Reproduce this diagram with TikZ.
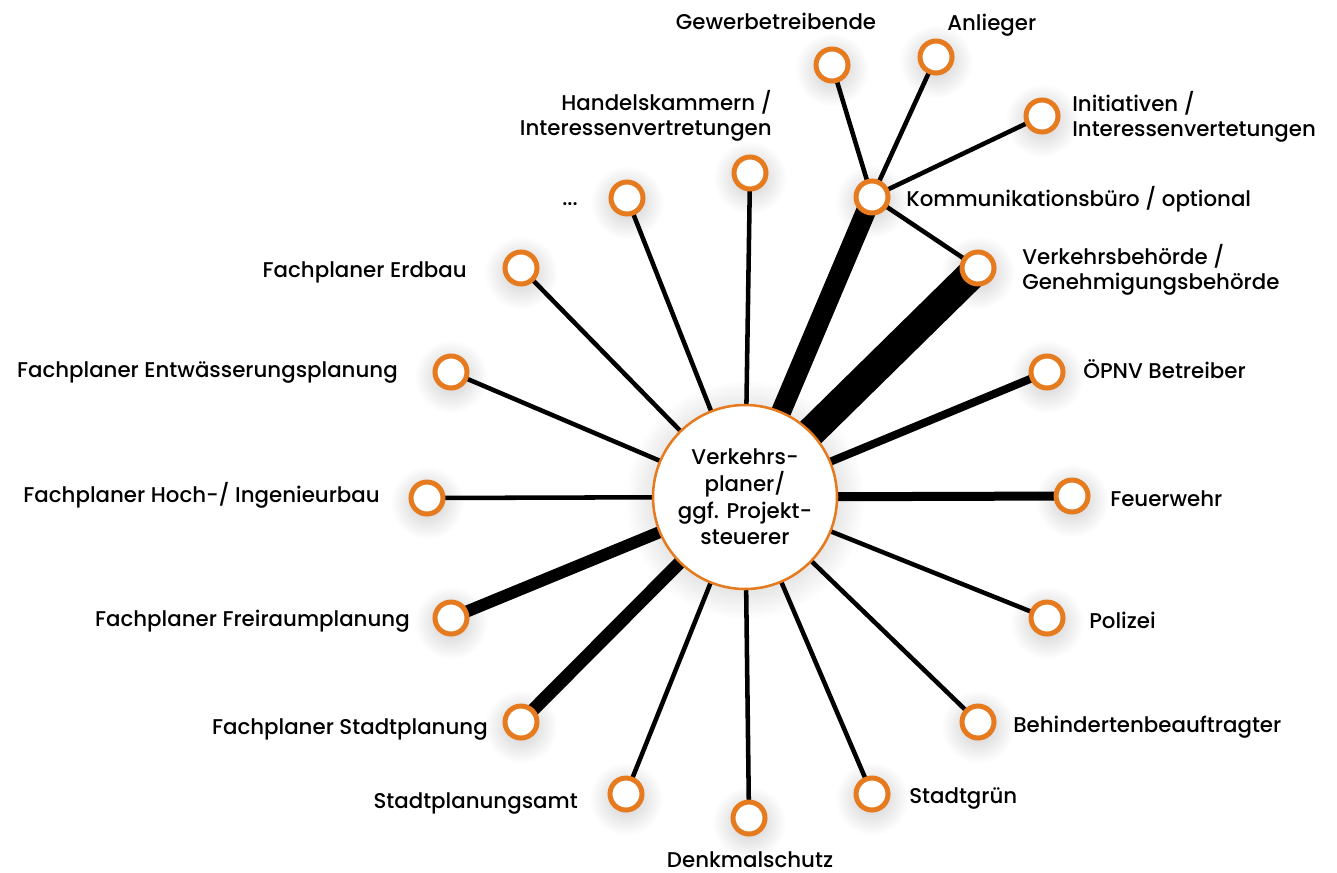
\documentclass[tikz,border=0pt]{standalone}
\usepackage{fontspec}
\setmainfont{Poppins}[UprightFont=* Medium]
\usetikzlibrary{backgrounds,shadows,fadings}

\definecolor{ringorange}{RGB}{229,122,30}
\tikzfading[name=halo, inner color=transparent!0, outer color=transparent!100]

\begin{document}
\begin{tikzpicture}[
  x=0.75pt, y=-0.75pt,
  every node/.style={font=\fontsize{16pt}{19pt}\selectfont, inner sep=0pt},
  stake/.style={circle, draw=ringorange, line width=3.75pt, fill=white, minimum size=24pt,
    general shadow={shadow scale=2.3, path fading=halo, fill=black, opacity=0.2, shadow yshift=-1.5pt}},
  hub/.style={circle, draw=ringorange, line width=1.9pt, fill=white, minimum size=138pt,
    align=center, font=\fontsize{16pt}{20pt}\selectfont,
    general shadow={shadow scale=1.3, path fading=halo, fill=black, opacity=0.4, shadow yshift=-1.5pt}},
  link/.style={line width=3.4pt}
  ]
  \useasboundingbox (0,0) rectangle (1337,872);

  % centre
  \node[hub] (hub) at (745,497) {Verkehrs-\\planer/\\ggf. Projekt-\\steuerer};

  % stakeholders
  \node[stake] (komm)    at (872,197) {};
  \node[stake] (gewerbe) at (832,65) {};
  \node[stake] (anlieger) at (936,57) {};
  \node[stake] (init)    at (1042,116) {};
  \node[stake] (verkehr) at (978,268) {};
  \node[stake] (oepnv)   at (1047,372) {};
  \node[stake] (feuer)   at (1072,496) {};
  \node[stake] (polizei) at (1047,618) {};
  \node[stake] (behind)  at (978,722) {};
  \node[stake] (gruen)   at (872,794) {};
  \node[stake] (denk)    at (749,818) {};
  \node[stake] (samt)    at (626,794) {};
  \node[stake] (stadt)   at (521,722) {};
  \node[stake] (frei)    at (451,618) {};
  \node[stake] (hoch)    at (427,498) {};
  \node[stake] (entw)    at (451,372) {};
  \node[stake] (erdbau)  at (521,268) {};
  \node[stake] (dots)    at (627,198) {};
  \node[stake] (handel)  at (750,173) {};

  % labels
  \node[anchor=base] (gewerbetxt) at (776,29) {Gewerbetreibende};
  \node[anchor=base west] (anliegertxt) at (947,30) {Anlieger};
  \node[anchor=west, align=left] (inittxt) at (1072,117) {Initiativen /\\Interessenvertetungen};
  \node[anchor=base west] (kommtxt) at (906,206) {Kommunikationsbüro / optional};
  \node[anchor=west, align=left] (verkehrtxt) at (1022,270) {Verkehrsbehörde /\\Genehmigungsbehörde};
  \node[anchor=base west] (oepnvtxt) at (1083,378) {ÖPNV Betreiber};
  \node[anchor=base west] (feuertxt) at (1110,506) {Feuerwehr};
  \node[anchor=base west] (polizeitxt) at (1089,628) {Polizei};
  \node[anchor=base west] (behindtxt) at (1013,732) {Behindertenbeauftragter};
  \node[anchor=base west] (gruentxt) at (909,803) {Stadtgrün};
  \node[anchor=base] (denktxt) at (750,867) {Denkmalschutz};
  \node[anchor=base east] (samttxt) at (578,808) {Stadtplanungsamt};
  \node[anchor=base east] (stadttxt) at (488,734) {Fachplaner Stadtplanung};
  \node[anchor=base east] (freitxt) at (410,626) {Fachplaner Freiraumplanung};
  \node[anchor=base east] (hochtxt) at (380,502) {Fachplaner Hoch-/ Ingenieurbau};
  \node[anchor=base east] (entwtxt) at (398,377) {Fachplaner Entwässerungsplanung};
  \node[anchor=base east] (erdbautxt) at (467,277) {Fachplaner Erdbau};
  \node[anchor=base east] (dotstxt) at (578,205) {...};
  \node[anchor=east, align=right] (handeltxt) at (772,116) {Handelskammern /\\Interessenvertretungen};

  % connectors
  \begin{scope}[on background layer]
    \foreach \n in {handel,dots,erdbau,entw,hoch,samt,denk,gruen,behind,polizei}
      \draw[link] (hub.center) -- (\n.center);
    \foreach \n in {gewerbe,anlieger,init,verkehr}
      \draw[link] (komm.center) -- (\n.center);
    \draw[line width=15pt] (hub.center) -- (komm.center);
    \draw[line width=22.5pt] (hub.center) -- (verkehr.center);
    \draw[line width=6pt] (hub.center) -- (oepnv.center);
    \draw[line width=6.75pt] (hub.center) -- (feuer.center);
    \draw[line width=9pt] (hub.center) -- (frei.center);
    \draw[line width=9.75pt] (hub.center) -- (stadt.center);
  \end{scope}
\end{tikzpicture}
\end{document}
